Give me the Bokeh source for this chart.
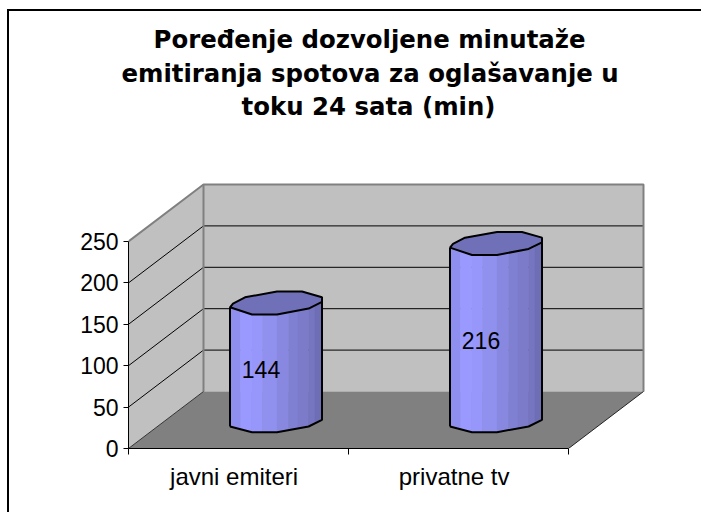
import numpy as np
from bokeh.embed import file_html
from bokeh.resources import INLINE
from bokeh.plotting import figure
from bokeh.models import Range1d, LinearAxis, FixedTicker, Title
from bokeh.core.properties import value

categories = ["javni emiteri", "privatne tv"]
minutes = [144, 216]
y_ticks = [0, 50, 100, 150, 200, 250]
title_lines = ["Poređenje dozvoljene minutaže",
               "emitiranja spotova za oglašavanje u",
               "toku 24 sata (min)"]

# picture pixel geometry of the plot frame
W, H = 701, 512
L, R, T, B = 128, 660, 170, 448
PX_X = 220.0
PX_Y = 0.828
DX, DY = 75.0, 57.0

p = figure(width=W, height=H, output_backend="svg", toolbar_location=None,
           x_axis_location=None, y_axis_location=None,
           x_range=Range1d(0, (R - L) / PX_X), y_range=Range1d(0, (B - T) / PX_Y),
           min_border_left=L, min_border_right=W - R,
           min_border_top=T, min_border_bottom=H - B)
p.grid.visible = False
p.outline_line_color = None
p.background_fill_color = "white"
p.border_fill_color = None
# chart-area border: only its top and left edges are in the picture
p.styles = {"background": "linear-gradient(#000,#000) 7px 9px/2px 100% no-repeat, "
                          "linear-gradient(#000,#000) 7px 9px/100% 2px no-repeat"}

n = len(categories)
ymax = y_ticks[-1]
dx, dy = DX / PX_X, DY / PX_Y

# walls and floor
p.patch([0, dx, dx, 0], [0, dy, dy + ymax, ymax], fill_color="#c0c0c0", line_color=None)
p.patch([dx, dx + n, dx + n, dx], [dy, dy, dy + ymax, dy + ymax], fill_color="#c0c0c0", line_color=None)
p.patch([0, dx, dx + n, n], [0, dy, dy, 0], fill_color="#808080", line_color=None)

# gridlines
for t in y_ticks[1:-1]:
    p.line([0, dx, dx + n], [t, dy + t, dy + t], line_color="#000000", line_width=1)
p.line([0, dx, dx + n, dx + n], [ymax, dy + ymax, dy + ymax, dy], line_color="#808080", line_width=2)
p.line([dx, dx], [dy, dy + ymax], line_color="#808080", line_width=2)
p.line([0, dx], [0, dy], line_color="#333333", line_width=1)
p.line([n, dx + n], [0, dy], line_color="#222222", line_width=1)

# cylinders
edge_dx = np.array([-46, -24, 1, 32.6, 46])
top_front = np.array([0, 7.3, 7.3, 1.3, -5.3])
bot_front = np.array([0, 5.7, 5.7, 0, -6.7])
back_dx = [46, 26, 1, -31, -43, -46]
back_dy = [-10, -15.7, -15.7, -10, -3.7, 0]
strip_edges = [-46, -35.5, -24.5, -13.5, 1, 12.5, 22, 32.6, 39, 46]
strip_cols = ["#8f8ff0", "#9999ff", "#9797fb", "#9090ee", "#8888e0", "#8080d2",
              "#7b7bca", "#7575c0", "#6e6eb5"]
BASE = 22.0

for i, v in enumerate(minutes):
    cx = i + 0.5 + (DX / 2) / PX_X
    base = BASE / PX_Y
    def XS(a): return cx + np.asarray(a, float) / PX_X
    def BY(a): return base - np.asarray(a, float) / PX_Y
    def TY(a): return base + v - np.asarray(a, float) / PX_Y
    for a, b, c in zip(strip_edges[:-1], strip_edges[1:], strip_cols):
        pts = [a] + [e for e in edge_dx if a < e < b] + [b]
        tops = np.interp(pts, edge_dx, top_front)
        bots = np.interp(pts, edge_dx, bot_front)
        p.patch(list(XS(pts)) + list(XS(pts[::-1])),
                list(TY(tops)) + list(BY(bots[::-1])),
                fill_color=c, line_color=c, line_width=0.5)
    p.patch(list(XS(edge_dx)) + list(XS(back_dx)),
            list(TY(top_front)) + list(TY(back_dy)),
            fill_color="#7070b8", line_color="black", line_width=2)
    p.line(list(XS(edge_dx)) + [XS(edge_dx[-1])],
           list(BY(bot_front)) + [TY(top_front[-1])],
           line_color="black", line_width=2)
    p.line([XS(edge_dx[0]), XS(edge_dx[0])], [BY(bot_front[0]), TY(top_front[0])],
           line_color="black", line_width=2)
    p.text([cx - 15 / PX_X], [base + v / 2 - 3 / PX_Y], text=[str(v)],
           text_font=value("Liberation Sans"), text_font_size="23px",
           text_align="center", text_baseline="middle", text_color="black")

# axes
yax = LinearAxis(ticker=FixedTicker(ticks=y_ticks), bounds=(0, ymax))
yax.axis_line_color = "black"
yax.major_tick_line_color = "black"
yax.major_tick_out = 5
yax.major_tick_in = 0
yax.minor_tick_line_color = None
yax.major_label_standoff = 5
yax.major_label_text_font = "Liberation Sans"
yax.major_label_text_font_size = "23px"
yax.major_label_text_color = "black"
p.add_layout(yax, "left")

label_pos = [i + 0.48 for i in range(n)]
xax = LinearAxis(ticker=FixedTicker(ticks=label_pos, minor_ticks=list(range(n + 1))),
                 bounds=(0, n))
xax.major_label_overrides = dict(zip(label_pos, categories))
xax.axis_line_color = "black"
xax.major_tick_line_color = None
xax.minor_tick_line_color = "black"
xax.minor_tick_out = 6
xax.minor_tick_in = 0
xax.major_label_standoff = 8
xax.major_label_text_font = "Liberation Sans"
xax.major_label_text_font_size = "24px"
xax.major_label_text_color = "black"
p.add_layout(xax, "below")

# title: first list entry sits nearest the frame; left edges are set through offset
title_font = dict(text_font="DejaVu Sans", text_font_style="bold", text_font_size="24.4px",
                  text_color="black")
p.add_layout(Title(text=" ", standoff=18, **title_font), "above")  # gap above the frame
for line, left_px, stand in zip(title_lines[::-1], [241, 121, 153], [2, 2, 4]):
    p.add_layout(Title(text=line, align="left", offset=left_px - L, standoff=stand, **title_font),
                 "above")

open("out.html", "w").write(file_html(p, INLINE))
